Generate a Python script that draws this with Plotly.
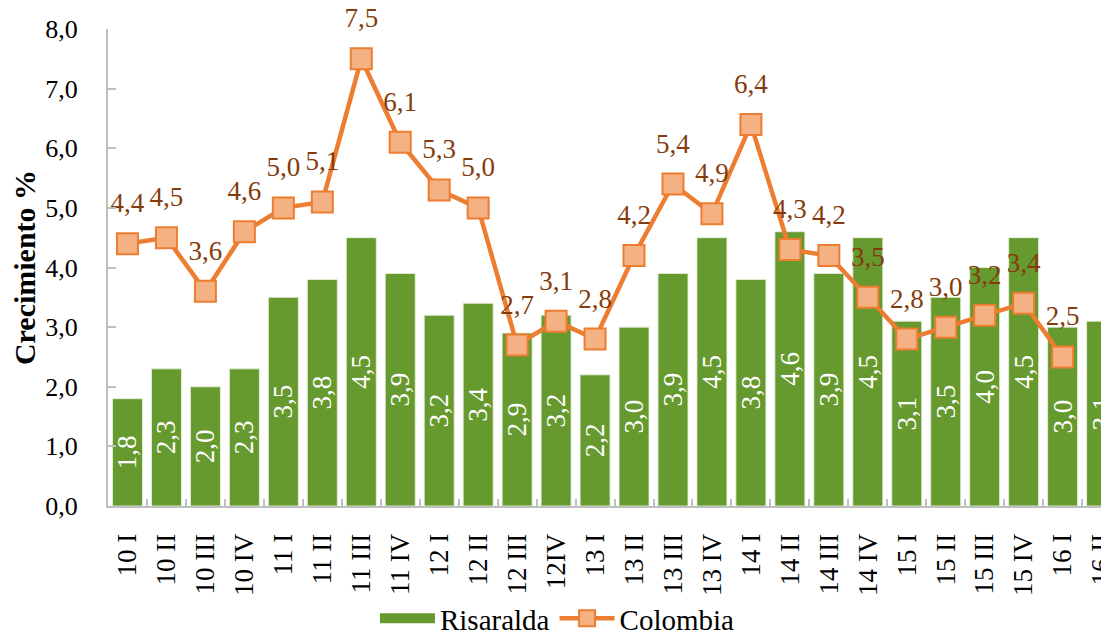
import plotly.graph_objects as go

categories = ["10 I", "10 II", "10 III", "10 IV", "11 I", "11 II", "11 III", "11 IV",
              "12 I", "12 II", "12 III", "12IV", "13 I", "13 II", "13 III", "13 IV",
              "14 I", "14 II", "14 III", "14 IV", "15 I", "15 II", "15 III", "15 IV",
              "16 I", "16 II"]
risaralda = [1.8, 2.3, 2.0, 2.3, 3.5, 3.8, 4.5, 3.9, 3.2, 3.4, 2.9, 3.2, 2.2, 3.0,
             3.9, 4.5, 3.8, 4.6, 3.9, 4.5, 3.1, 3.5, 4.0, 4.5, 3.0, 3.1]
colombia = [4.4, 4.5, 3.6, 4.6, 5.0, 5.1, 7.5, 6.1, 5.3, 5.0, 2.7, 3.1, 2.8, 4.2,
            5.4, 4.9, 6.4, 4.3, 4.2, 3.5, 2.8, 3.0, 3.2, 3.4, 2.5]
y_ticks = [0, 1, 2, 3, 4, 5, 6, 7, 8]

FONT = "Liberation Serif, Times New Roman, serif"
GREEN = "#66992E"

def fmt(v):
    return f"{v:.1f}".replace(".", ",")

fig = go.Figure()
# legend entry for Risaralda (wide green swatch)
fig.add_trace(go.Scatter(
    x=[None], y=[None], name="Risaralda", mode="lines",
    line=dict(color=GREEN, width=16), hoverinfo="skip",
))
fig.add_trace(go.Bar(
    x=categories, y=risaralda, name="Risaralda", showlegend=False,
    marker=dict(color=GREEN, line=dict(color="rgba(230,240,220,0.9)", width=1)),
    width=0.77,
    text=[fmt(v) for v in risaralda],
    textposition="inside", insidetextanchor="middle", textangle=-90,
    constraintext="none",
    textfont=dict(family=FONT, size=27, color="white"),
    hoverinfo="skip",
))
fig.add_trace(go.Scatter(
    x=categories[:len(colombia)], y=colombia, name="Colombia",
    mode="lines+markers",
    line=dict(color="#ED7D31", width=4.5),
    marker=dict(symbol="square", size=21, color="#F4B183",
                line=dict(color="#ED7D31", width=2)),
    hoverinfo="skip",
))
# data labels for Colombia, placed above the markers
fig.add_trace(go.Scatter(
    x=categories[:len(colombia)], y=colombia, name="Colombia labels",
    mode="markers+text", showlegend=False,
    marker=dict(size=38, opacity=0),
    text=[fmt(v) for v in colombia],
    textposition="top center",
    textfont=dict(family=FONT, size=27, color="#843C0C"),
    cliponaxis=False,
    hoverinfo="skip",
))

fig.update_layout(
    width=1101, height=636,
    margin=dict(l=100, r=0, t=21, b=138),
    paper_bgcolor="white", plot_bgcolor="white",
    separators=",.",
    font=dict(family=FONT, size=27, color="black"),
    showlegend=True,
    legend=dict(orientation="h", x=0.449, xanchor="center",
                yref="container", y=-0.018, yanchor="bottom",
                font=dict(family=FONT, size=29), itemwidth=55,
                bgcolor="rgba(0,0,0,0)"),
    bargap=0.23,
)
fig.update_xaxes(
    type="category", range=[-0.5, 25.19], automargin=False,
    showline=True, linecolor="#BFBFBF", linewidth=2,
    ticks="inside", tickson="boundaries", ticklen=7, tickcolor="#BFBFBF", tickwidth=1.5,
    tickangle=-90, tickfont=dict(family=FONT, size=27, color="black"),
    ticklabelstandoff=15,
    showgrid=False, zeroline=False,
)
fig.update_yaxes(
    range=[0, 8], tickvals=y_ticks, tickformat=".1f", automargin=False,
    showline=True, linecolor="#BFBFBF", linewidth=2,
    ticks="inside", ticklen=8, tickcolor="#BFBFBF", tickwidth=1.5,
    tickfont=dict(family=FONT, size=26, color="black"),
    ticklabelstandoff=23,
    showgrid=False, zeroline=False,
    title=dict(text="<b>Crecimiento %</b>", font=dict(family=FONT, size=30, color="black"),
               standoff=8),
)

fig.write_html("out.html")
